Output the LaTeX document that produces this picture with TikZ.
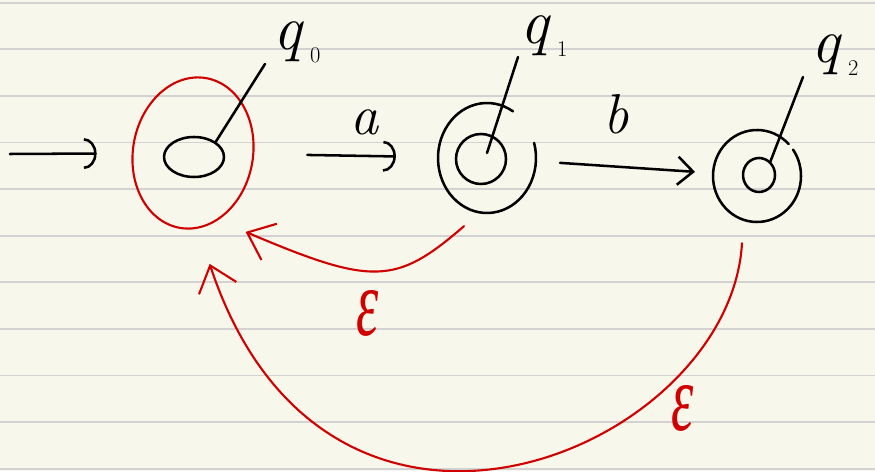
\documentclass[tikz,border=0pt]{standalone}
\usepackage{fontspec}
\usepackage{tikz}
\usetikzlibrary{arrows.meta,positioning,shapes.geometric}
\newfontfamily\greekfont{Liberation Serif}
\newcommand{\statesub}[1]{\hspace{12pt}\raisebox{-18pt}{\fontsize{32}{32}\selectfont\upshape #1}}
\definecolor{paper}{HTML}{F8F7EB}
\definecolor{ruling}{HTML}{D2D2D2}
\definecolor{ink}{HTML}{000000}
\definecolor{inkred}{HTML}{D00000}
\tikzset{
  pen/.style={draw=ink,line width=3.6pt,line cap=round,line join=round},
  redpen/.style={draw=inkred,line width=3pt,line cap=round,line join=round},
  flow/.style={pen,-{Arc Barb[length=18pt,width=44pt]}},
  openflow/.style={pen,-{Straight Barb[length=22pt,width=40pt]}},
  epsflow/.style={redpen,-{Straight Barb[length=34pt,width=56pt]}},
  state/.style={ellipse,pen,inner sep=0pt},
  ring/.style={ellipse,draw=none,inner sep=0pt},
  lab/.style={inner sep=0pt,font=\fontsize{80}{80}\selectfont\itshape},
  namelab/.style={lab,anchor=base west,font=\fontsize{90}{90}\selectfont\itshape}
}

\begin{document}
\begin{tikzpicture}[x=0.5mm,y=0.5mm]
  \useasboundingbox (0,0) rectangle (875,471);
  % paper
  \fill[paper] (0,0) rectangle (875,471);
  \foreach \k in {0,...,10}
    \draw[ruling,line width=2.6pt] (0,{468.3-46.6*\k}) -- (875,{468.3-46.6*\k});

  % states
  \node[ring,draw=inkred,line width=3pt,minimum width=60mm,minimum height=76mm,rotate=-10] (q0o) at (193,318) {};
  \node[state,minimum width=30mm,minimum height=20mm] (q0) at (194,314) {};
  \node[ring,minimum width=49mm,minimum height=55mm] (q1o) at (487,313) {};
  \node[state,minimum width=25mm,minimum height=25mm] (q1) at (481,312) {};
  \draw[pen] ([shift={(58:24.5mm and 27.5mm)}]q1o.center) arc[start angle=58,end angle=376,x radius=24.5mm,y radius=27.5mm];
  \node[ring,minimum width=44mm,minimum height=46mm] (q2o) at (757,295) {};
  \node[state,minimum width=16mm,minimum height=17mm] (q2) at (759,296) {};
  \draw[pen] ([shift={(44:22mm and 23mm)}]q2o.center) arc[start angle=44,end angle=395,x radius=22mm,y radius=23mm];

  % names
  \node[namelab] (q0lab) at (273,421) {q\statesub{0}};
  \node[namelab] (q1lab) at (520,427) {q\statesub{1}};
  \node[namelab] (q2lab) at (811,408) {q\statesub{2}};
  \draw[pen] ([shift={(-8,-14)}]q0lab.base west) -- (q0.35);
  \draw[pen] ([shift={(-2,-13)}]q1lab.base west) -- ([shift={(6,6)}]q1.center);
  \draw[pen] ([shift={(-8,-14)}]q2lab.base west) -- (q2.50);

  % transitions
  \coordinate (init) at (10,317);
  \draw[flow,shorten >=17.5mm] (init) -- (q0o);
  \draw[flow,shorten <=26.5mm,shorten >=21mm] (q0o) -- node[pos=.6,above=10mm,lab]{a} (q1o);
  \draw[openflow,shorten <=12mm,shorten >=9mm] (q1o) -- node[pos=.45,above=15.5mm,lab]{b} (q2o);
  \draw[epsflow] ([shift={(-23,-13)}]q1o.south) .. controls +(-68,-59) and +(127,-54) .. node[pos=.55,below=9mm,lab,text=inkred]{\scalebox{1}[1.7]{\greekfont ε}} ([shift={(66,-3)}]q0o.south);
  \draw[epsflow] ([shift={(-15,-21)}]q2o.south) .. controls +(-12,-208) and +(118,-356) .. node[pos=.25,anchor=north west,lab,text=inkred]{\scalebox{1}[1.7]{\greekfont ε}} ([shift={(30,-35)}]q0o.south);
\end{tikzpicture}
\end{document}
